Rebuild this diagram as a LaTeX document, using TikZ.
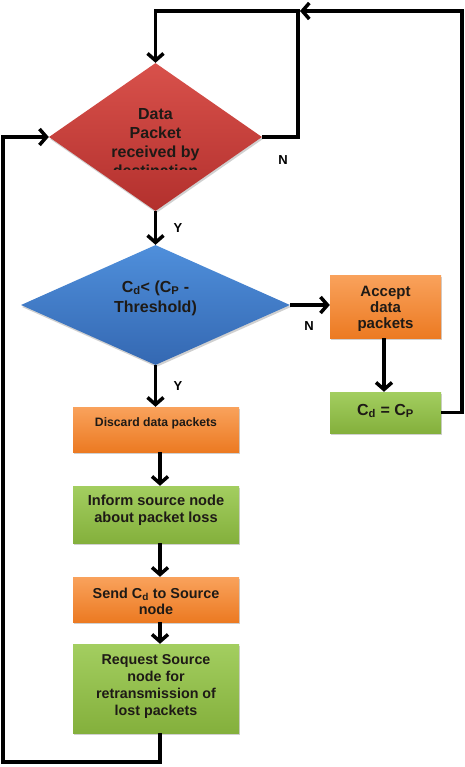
\documentclass[tikz,border=0pt]{standalone}
\usepackage{fontspec}
\setmainfont{Liberation Sans}
\usetikzlibrary{arrows.meta,shapes.geometric,shadows}
\definecolor{redT}{HTML}{D8514B}
\definecolor{redB}{HTML}{B3302D}
\definecolor{bluT}{HTML}{4F8FDB}
\definecolor{bluB}{HTML}{3468B2}
\definecolor{orgT}{HTML}{F9A25C}
\definecolor{orgB}{HTML}{EC7A22}
\definecolor{grnT}{HTML}{A3CE60}
\definecolor{grnB}{HTML}{84B03C}
\definecolor{txtc}{HTML}{1E1A16}
\begin{document}
\begin{tikzpicture}[x=1pt,y=-1pt,
  conn/.style={line width=3.5pt, black, line join=miter},
  arr/.style={conn, -{Straight Barb[length=7pt,width=16pt]}},
  shad/.style={drop shadow={shadow xshift=1pt, shadow yshift=-2pt, opacity=0.3, fill=black!60}},
  dia/.style={diamond, inner sep=0pt, shad},
  boxx/.style={rectangle, inner sep=0pt, shad},
  orangebox/.style={boxx, top color=orgT, bottom color=orgB},
  greenbox/.style={boxx, top color=grnT, bottom color=grnB},
  lbl/.style={text=txtc, align=center, inner sep=0pt, font=\bfseries},
  yn/.style={inner sep=0pt, font=\fontsize{13}{15}\selectfont\bfseries}
]
\useasboundingbox[fill=white] (0,0) rectangle (465,767);

% shapes
\node[dia, minimum width=213pt, minimum height=148pt, top color=redT, bottom color=redB] (d1) at (155.5,137) {};
\node[dia, minimum width=269pt, minimum height=120pt, top color=bluT, bottom color=bluB] (d2) at (155.5,305) {};
\node[orangebox, minimum width=111pt, minimum height=63pt] (acc) at (385.5,306.5) {};
\node[greenbox, minimum width=111pt, minimum height=41pt] (cdcp) at (385.5,412.5) {};
\node[orangebox, minimum width=166pt, minimum height=45pt] (disc) at (156,429.5) {};
\node[greenbox, minimum width=166pt, minimum height=57pt] (inf) at (156,514.5) {};
\node[orangebox, minimum width=166pt, minimum height=45pt] (send) at (156,599.5) {};
\node[greenbox, minimum width=166pt, minimum height=89pt] (req) at (156,688.5) {};

% texts
\begin{scope}
  \clip (60,90) rectangle (250,169.5);
  \node[lbl, font=\fontsize{16}{19}\selectfont\bfseries] (t1) at (155.5,142.5) {Data\\Packet\\received by\\destination};
\end{scope}
\node[lbl, font=\fontsize{16}{20}\selectfont\bfseries] (t2) at (155.5,298) {C\textsubscript{d}< (C\textsubscript{P} -\\Threshold)};
\begin{scope}
  \clip (330,270) rectangle (441,330);
  \node[lbl, font=\fontsize{15}{16}\selectfont\bfseries] (t3) at (385.5,308.5) {Accept\\data\\packets};
\end{scope}
\node[lbl, font=\fontsize{16}{18}\selectfont\bfseries] (t4) at (385.5,411) {C\textsubscript{d} = C\textsubscript{P}};
\node[lbl, font=\fontsize{12.2}{14}\selectfont\bfseries] (t5) at (156,423.5) {Discard data packets};
\node[lbl, font=\fontsize{14.6}{17}\selectfont\bfseries] (t6) at (156,510.5) {Inform source node\\about packet loss};
\begin{scope}
  \clip (73,577) rectangle (239,614);
  \node[lbl, font=\fontsize{14.4}{16}\selectfont\bfseries] (t7) at (156,601.5) {Send C\textsubscript{d} to Source\\node};
\end{scope}
\node[lbl, font=\fontsize{14.3}{16.8}\selectfont\bfseries] (t8) at (156,686.5) {Request Source\\node for\\retransmission of\\lost packets};

% junction coordinates
\coordinate (j1) at (298,11);
\coordinate (j2) at (462,11);
\coordinate (bl) at (3,762);

% connectors
\draw[arr] (d1.east) -| (j1) -| (d1.north);
\draw[arr] (cdcp.east) -| (j2) -- ([xshift=2]j1);
\draw[arr] (d1.south) -- (d2.north);
\draw[arr] (d2.east) -- (d2.east -| acc.west);
\draw[arr] (acc.south -| 384,0) -- (cdcp.north -| 384,0);
\draw[arr] (d2.south) -- (d2.south |- disc.north);
\draw[arr] ([xshift=4]disc.south) -- ([xshift=4]inf.north);
\draw[arr] ([xshift=4]inf.south) -- ([xshift=4]send.north);
\draw[arr] ([xshift=4]send.south) -- ([xshift=4]req.north);
\draw[arr] ([xshift=4]req.south) |- (bl) |- (d1.west);

% labels
\node[yn] (n1) at (283,160) {N};
\node[yn] (y1) at (178,228) {Y};
\node[yn] (n2) at (309,326) {N};
\node[yn] (y2) at (178,386) {Y};
\end{tikzpicture}
\end{document}
